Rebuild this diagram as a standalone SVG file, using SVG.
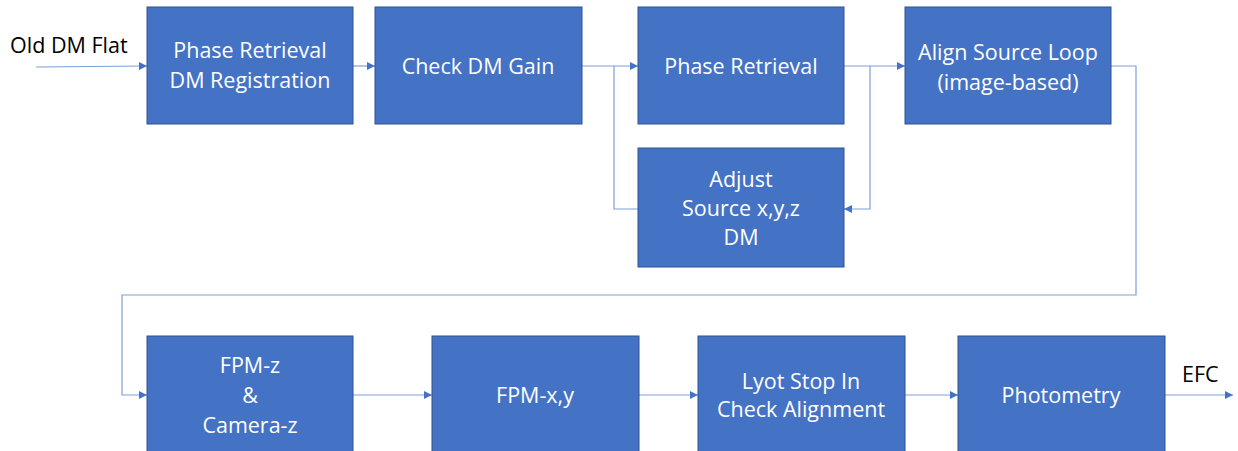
<svg xmlns="http://www.w3.org/2000/svg" width="1238" height="451" viewBox="0 0 1238 451">
<defs>
<marker id="ah" viewBox="0 0 10 10" refX="10" refY="5" markerWidth="8" markerHeight="8" markerUnits="userSpaceOnUse" orient="auto">
<path d="M0,0 L10,5 L0,10 z" fill="#4472C4"/>
</marker>
<style>
.box{fill:#4472C4;stroke:#2F528F;stroke-width:1}
.t{font-family:"Open Sans","Liberation Sans",sans-serif;font-size:21.5px;fill:#FFFFFF;text-anchor:middle}
.lbl{font-family:"Open Sans","Liberation Sans",sans-serif;font-size:21.5px;fill:#000000}
.c{fill:none;stroke:#7C9FD9;stroke-width:1.2}
.ca{fill:none;stroke:#7C9FD9;stroke-width:1.2;marker-end:url(#ah)}
</style>
</defs>
<rect width="1238" height="451" fill="#FFFFFF"/>
<g id="connectors">
<path class="ca" d="M36,67 L147,66"/>
<path class="ca" d="M353,66 L375,66"/>
<path class="ca" d="M582,66 L638,66"/>
<path class="c" d="M614,66 L614,209 L638,209"/>
<path class="ca" d="M844,66 L905,66"/>
<path class="ca" d="M870,66 L870,209 L844,209"/>
<path class="ca" d="M1111,66 L1136,66 L1136,295 L122,295 L122,395 L147,395"/>
<path class="ca" d="M353,395 L432,395"/>
<path class="ca" d="M639,395 L698,395"/>
<path class="ca" d="M905,395 L958,395"/>
<path class="ca" d="M1165,395 L1233,395"/>
</g>
<g id="label-old"><text class="lbl" x="10" y="53">Old DM Flat</text></g>
<g id="label-efc"><text class="lbl" x="1182" y="382">EFC</text></g>
<g id="n1"><rect class="box" x="147" y="7" width="206" height="117"/><text class="t" x="250" y="58">Phase Retrieval</text><text class="t" x="250" y="88">DM Registration</text></g>
<g id="n2"><rect class="box" x="375" y="7" width="207" height="117"/><text class="t" x="478" y="74">Check DM Gain</text></g>
<g id="n3"><rect class="box" x="638" y="7" width="206" height="117"/><text class="t" x="741" y="74">Phase Retrieval</text></g>
<g id="n4"><rect class="box" x="905" y="7" width="206" height="117"/><text class="t" x="1008" y="60">Align Source Loop</text><text class="t" x="1008" y="90">(image-based)</text></g>
<g id="n5"><rect class="box" x="638" y="148" width="206" height="119"/><text class="t" x="741" y="187">Adjust</text><text class="t" x="741" y="216">Source x,y,z</text><text class="t" x="741" y="245">DM</text></g>
<g id="n6"><rect class="box" x="147" y="336" width="206" height="120"/><text class="t" x="250" y="373">FPM-z</text><text class="t" x="250" y="403">&amp;</text><text class="t" x="250" y="433">Camera-z</text></g>
<g id="n7"><rect class="box" x="432" y="336" width="207" height="120"/><text class="t" x="535" y="403">FPM-x,y</text></g>
<g id="n8"><rect class="box" x="698" y="336" width="207" height="120"/><text class="t" x="801" y="389">Lyot Stop In</text><text class="t" x="801" y="417">Check Alignment</text></g>
<g id="n9"><rect class="box" x="958" y="336" width="207" height="120"/><text class="t" x="1061" y="403">Photometry</text></g>
</svg>
